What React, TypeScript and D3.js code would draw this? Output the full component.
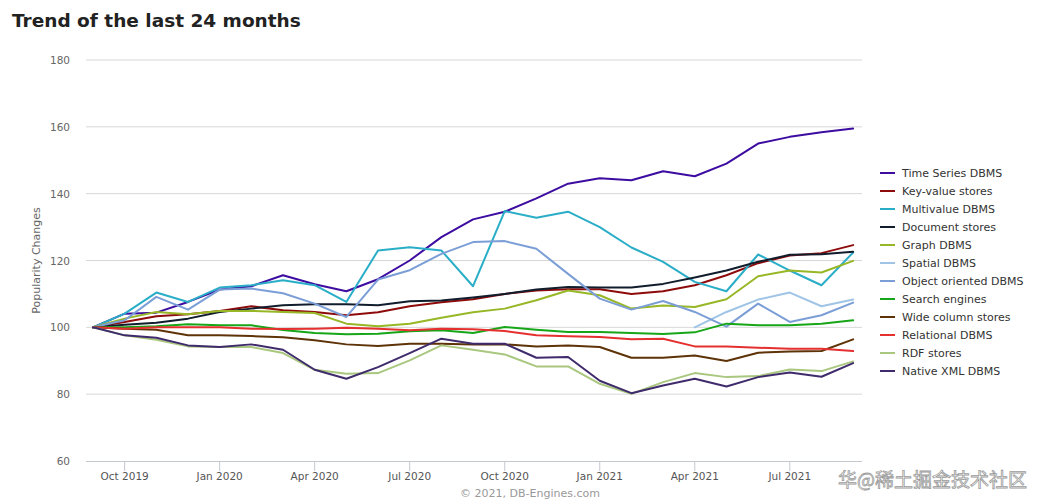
import * as d3 from 'd3';

// monthly index values, Sep 2019 .. Sep 2021 (100 = Sep 2019)
const months = [
  'Sep 2019', 'Oct 2019', 'Nov 2019', 'Dec 2019', 'Jan 2020', 'Feb 2020', 'Mar 2020',
  'Apr 2020', 'May 2020', 'Jun 2020', 'Jul 2020', 'Aug 2020', 'Sep 2020', 'Oct 2020',
  'Nov 2020', 'Dec 2020', 'Jan 2021', 'Feb 2021', 'Mar 2021', 'Apr 2021', 'May 2021',
  'Jun 2021', 'Jul 2021', 'Aug 2021', 'Sep 2021',
];
const tickMonths = ['Oct 2019', 'Jan 2020', 'Apr 2020', 'Jul 2020', 'Oct 2020', 'Jan 2021', 'Apr 2021', 'Jul 2021'];
const yTicks = [60, 80, 100, 120, 140, 160, 180];

const timeSeries = [100, 104.1, 104.4, 107.6, 111.3, 112.3, 115.6, 112.9, 110.8, 114.4, 120, 127, 132.3, 134.6, 138.6, 143, 144.6, 144, 146.7, 145.2, 149, 155, 157, 158.4, 159.5];
const keyValue = [100, 101.6, 103.3, 103.9, 104.9, 106.3, 105.1, 104.6, 103.6, 104.5, 106.3, 107.5, 108.4, 110, 111, 111.4, 111.4, 110, 110.8, 112.6, 115.6, 119.2, 121.5, 122.2, 124.6];
const multivalue = [100, 104.1, 110.4, 107.6, 111.9, 112.6, 114.1, 112.6, 107.6, 123, 124, 123, 112.3, 134.8, 132.8, 134.6, 130, 123.9, 119.6, 113.6, 110.8, 121.8, 117, 112.6, 122.4];
const documentStores = [100, 100.8, 101.4, 102.6, 104.6, 105.6, 106.6, 106.9, 106.9, 106.6, 107.8, 108, 108.9, 110, 111.3, 112.1, 111.9, 111.9, 113, 114.9, 117, 119.6, 121.7, 121.9, 122.6];
const graph = [100, 102.6, 104.6, 103.9, 104.9, 104.9, 104.6, 104.3, 101.1, 100.3, 101.1, 102.9, 104.5, 105.6, 108.1, 111, 109.6, 105.6, 106.5, 106.1, 108.4, 115.3, 117, 116.4, 119.9];
const spatial = [null, null, null, null, null, null, null, null, null, null, null, null, null, null, null, null, null, null, null, 100, 104.6, 108.3, 110.4, 106.3, 108.3];
const objectOriented = [100, 102.1, 109.1, 105.3, 111.3, 111.6, 110.2, 107.1, 103.1, 114.3, 117.1, 122, 125.5, 125.8, 123.5, 116, 108.6, 105.3, 107.9, 104.6, 100.2, 107.1, 101.6, 103.6, 107.4];
const search = [100, 100, 100.3, 100.9, 100.6, 100.6, 99.2, 98.3, 97.9, 98.1, 98.8, 99.1, 98.3, 100.1, 99.3, 98.6, 98.6, 98.3, 98, 98.5, 101.1, 100.6, 100.6, 101.1, 102.1];
const wideColumn = [100, 99.6, 99.3, 97.6, 97.6, 97.4, 97, 96.1, 94.9, 94.4, 95.1, 95.1, 94.9, 94.9, 94.3, 94.6, 94.1, 90.9, 90.9, 91.6, 89.9, 92.4, 92.8, 92.9, 96.4];
const relational = [100, 99.6, 100, 100, 100, 99.6, 99.5, 99.6, 99.9, 99.6, 99.1, 99.6, 99.4, 98.9, 97.6, 97.3, 97.1, 96.4, 96.6, 94.3, 94.3, 93.9, 93.6, 93.6, 92.9];
const rdf = [100, 97.6, 96.3, 94.3, 94.1, 94.1, 92.3, 87.3, 86.1, 86.3, 90.1, 94.6, 93.3, 91.9, 88.3, 88.3, 83.1, 80.1, 83.6, 86.3, 85.1, 85.4, 87.4, 86.9, 89.8];
const nativeXml = [100, 97.6, 96.9, 94.6, 94.1, 94.9, 93.3, 87.3, 84.6, 88.1, 92.3, 96.6, 95.1, 95.1, 90.9, 91.1, 84, 80.3, 82.6, 84.6, 82.3, 85.1, 86.5, 85.2, 89.3];

const seriesNames = [
  'Time Series DBMS', 'Key-value stores', 'Multivalue DBMS', 'Document stores', 'Graph DBMS', 'Spatial DBMS',
  'Object oriented DBMS', 'Search engines', 'Wide column stores', 'Relational DBMS', 'RDF stores', 'Native XML DBMS',
];
const seriesValues = [
  timeSeries, keyValue, multivalue, documentStores, graph, spatial,
  objectOriented, search, wideColumn, relational, rdf, nativeXml,
];
const seriesColors = [
  '#3d0ca0', '#8e0b0b', '#2aaec8', '#111d2c', '#97b726', '#9fc4e6',
  '#7b9ed6', '#17a617', '#5e3308', '#e4302f', '#a9c77e', '#3f2b6c',
];

const W = 1039;
const H = 504;
const FONT = '"DejaVu Sans", Verdana, sans-serif';

export default function App() {
  const x = d3.scaleLinear().domain([-0.22, 24.28]).range([86, 862]);
  const y = d3.scaleLinear().domain([60, 180]).range([461, 60]);

  const line = d3.line<number | null>()
    .defined((d) => d != null)
    .x((_, i) => x(i))
    .y((d) => y(d as number));

  return (
    <div style={{ position: 'absolute', left: 0, top: 0 }}>
      <svg width={W} height={H} style={{ display: 'block', background: '#fff' }} fontFamily={FONT}>
        <text x={12} y={27} fontSize={18.5} fontWeight="bold" fill="#222">Trend of the last 24 months</text>

        {/* grid + y labels */}
        {yTicks.map((t) => (
          <g key={t}>
            {t !== 60 && <line x1={86} x2={862} y1={y(t)} y2={y(t)} stroke="#d8d8d8" strokeWidth={1} />}
            <text x={70} y={y(t) + 4} textAnchor="end" fontSize={10.5} fill="#666">{t}</text>
          </g>
        ))}
        <text
          transform={`translate(40,${(y(60) + y(180)) / 2}) rotate(-90)`}
          textAnchor="middle"
          fontSize={11}
          fill="#666"
        >
          Popularity Changes
        </text>

        {/* x axis */}
        <line x1={86} x2={862} y1={461.5} y2={461.5} stroke="#c4c8d0" strokeWidth={1} />
        {tickMonths.map((m) => {
          const xi = x(months.indexOf(m));
          return (
            <g key={m}>
              <line x1={xi} x2={xi} y1={461} y2={471} stroke="#c4c8d0" strokeWidth={1} />
              <text x={xi} y={480} textAnchor="middle" fontSize={10.5} fill="#555">{m}</text>
            </g>
          );
        })}

        {/* series */}
        {seriesValues.map((vals, k) => (
          <path
            key={seriesNames[k]}
            d={line(vals) || ''}
            fill="none"
            stroke={seriesColors[k]}
            strokeWidth={2}
            strokeLinejoin="round"
            strokeLinecap="round"
          />
        ))}

        {/* legend */}
        {seriesNames.map((name, k) => (
          <g key={name} transform={`translate(880,${173 + k * 18})`}>
            <line x1={0} x2={15} y1={0} y2={0} stroke={seriesColors[k]} strokeWidth={2} />
            <text x={22} y={4} fontSize={11} fill="#333">{name}</text>
          </g>
        ))}

        <text x={530} y={497} textAnchor="middle" fontSize={11} fill="#999">© 2021, DB-Engines.com</text>

        {/* watermark */}
        <text
          x={838}
          y={487}
          fontSize={19}
          fontFamily='"Noto Sans CJK SC", sans-serif'
          fill="#fff"
          stroke="#8a8a8a"
          strokeWidth={0.8}
          opacity={0.85}
        >
          华@稀土掘金技术社区
        </text>
      </svg>
    </div>
  );
}
